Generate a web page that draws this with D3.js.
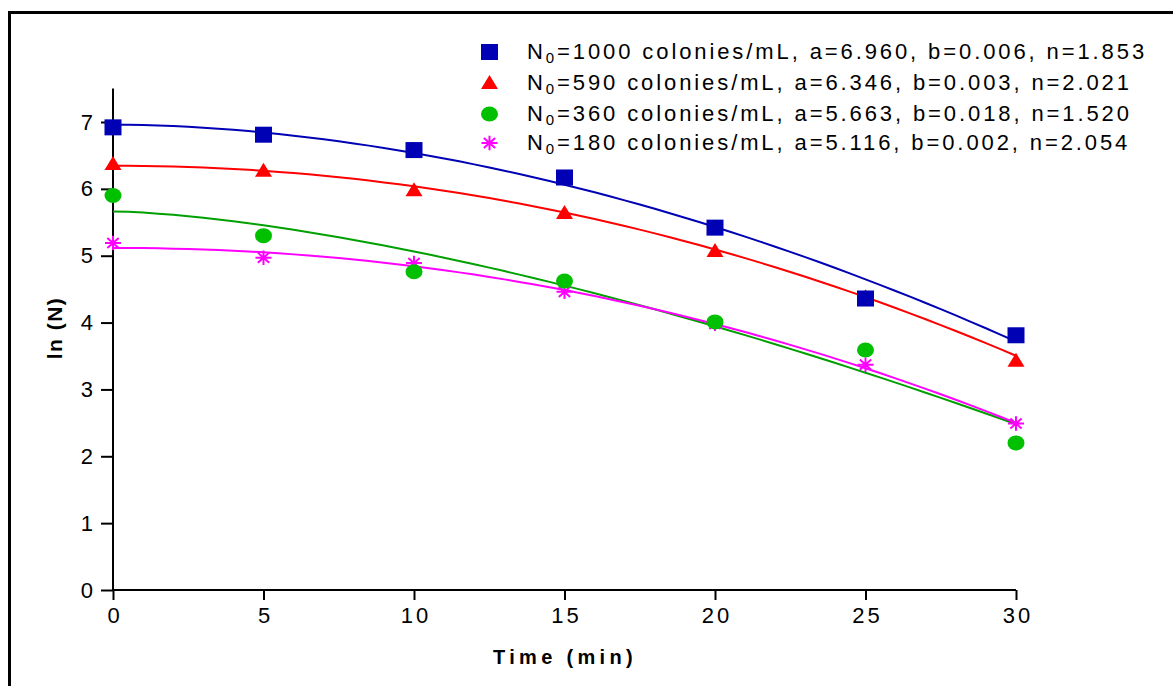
<!DOCTYPE html>
<html>
<head>
<meta charset="utf-8">
<script src="https://cdn.jsdelivr.net/npm/d3@7"></script>
<style>
  html, body { margin: 0; padding: 0; background: #fff; }
  svg { display: block; font-family: "Liberation Sans", Arial, Helvetica, sans-serif; }
</style>
</head>
<body>
<svg id="chart" width="1173" height="686"></svg>
<script>
// Sampling times (min)
const times = [0, 5, 10, 15, 20, 25, 30];

// Measured ln(N) for each initial concentration
const lnN1000 = [6.92, 6.81, 6.58, 6.17, 5.42, 4.36, 3.81];
const lnN590  = [6.37, 6.27, 5.98, 5.64, 5.07, 4.38, 3.43];
const lnN360  = [5.90, 5.30, 4.76, 4.62, 4.01, 3.59, 2.20];
const lnN180  = [5.19, 4.97, 4.89, 4.46, 3.98, 3.37, 2.49];

// Initial counts (colonies/mL)
const n0Values = [1000, 590, 360, 180];

// Fitted model ln N = a - b * t^n
const paramA = [6.960, 6.346, 5.663, 5.116];
const paramB = [0.00594, 0.00294, 0.0181, 0.00242];
const paramN = [1.853, 2.021, 1.520, 2.054];

// Axis ticks
const xTicks = [0, 5, 10, 15, 20, 25, 30];
const yTicks = [0, 1, 2, 3, 4, 5, 6, 7];

const seriesColors = ["#0000B4", "#FF0000", "#00C000", "#FF00FF"];
const lineColors   = ["#0000B4", "#FF0000", "#00A000", "#FF00FF"];
const markerKinds  = ["square", "triangle", "circle", "star"];
const seriesValues = [lnN1000, lnN590, lnN360, lnN180];

const svg = d3.select("#chart");

// Frame around the figure
svg.append("rect")
  .attr("x", 9.5).attr("y", 12.5)
  .attr("width", 1300).attr("height", 800)
  .attr("fill", "none").attr("stroke", "#000").attr("stroke-width", 3);

const x = d3.scaleLinear().domain([0, 30]).range([113, 1016]);
const y = d3.scaleLinear().domain([0, 7]).range([590, 122]);
const yTop = 7.5;

// Axes
const xAxis = svg.append("g").attr("transform", `translate(0,${y(0)})`)
  .call(d3.axisBottom(x).tickValues(xTicks).tickFormat(d3.format("d"))
    .tickSize(10).tickPadding(7).tickSizeOuter(0));
xAxis.select(".domain").remove();
xAxis.selectAll(".tick line").attr("stroke-width", 2);
xAxis.selectAll(".tick text")
  .attr("font-size", 22).attr("fill", "#000")
  .style("letter-spacing", "3px")
  .attr("dx", "1.5px");
xAxis.append("line")
  .attr("x1", x(0)).attr("x2", x(30)).attr("y1", 0).attr("y2", 0)
  .attr("stroke", "#000").attr("stroke-width", 2);

const yAxis = svg.append("g").attr("transform", `translate(${x(0)},0)`)
  .call(d3.axisLeft(y).tickValues(yTicks).tickFormat(d3.format("d"))
    .tickSize(12).tickPadding(8).tickSizeOuter(0));
yAxis.select(".domain").remove();
yAxis.selectAll(".tick line").attr("stroke-width", 2);
yAxis.selectAll(".tick text").attr("font-size", 22).attr("fill", "#000");
yAxis.append("line")
  .attr("x1", 0).attr("x2", 0).attr("y1", y(0) + 1).attr("y2", y(yTop))
  .attr("stroke", "#000").attr("stroke-width", 2);

// Axis titles
svg.append("text")
  .attr("x", 565).attr("y", 664)
  .attr("text-anchor", "middle")
  .attr("font-size", 20).attr("font-weight", "bold")
  .style("letter-spacing", "4.3px")
  .text("Time (min)");

svg.append("text")
  .attr("transform", "translate(62,328) rotate(-90)")
  .attr("text-anchor", "middle")
  .attr("font-size", 21).attr("font-weight", "bold")
  .style("letter-spacing", "1.5px")
  .text("ln (N)");

// Fitted curves
const tGrid = d3.range(0, 30.001, 0.5);
const line = d3.line().x(d => x(d[0])).y(d => y(d[1]));
paramA.forEach((a, i) => {
  const pts = tGrid.map(t => [t, a - paramB[i] * Math.pow(t, paramN[i])]);
  svg.append("path")
    .attr("d", line(pts))
    .attr("fill", "none")
    .attr("stroke", lineColors[i])
    .attr("stroke-width", 2);
});

// Marker drawing
function drawMarker(g, kind, color, cx, cy) {
  if (kind === "square") {
    g.append("rect").attr("x", cx - 8.5).attr("y", cy - 8).attr("width", 17).attr("height", 16)
      .attr("fill", color);
  } else if (kind === "triangle") {
    g.append("path")
      .attr("d", `M${cx},${cy - 8}L${cx + 8.5},${cy + 6}L${cx - 8.5},${cy + 6}Z`)
      .attr("fill", color);
  } else if (kind === "circle") {
    g.append("ellipse").attr("cx", cx).attr("cy", cy).attr("rx", 8.5).attr("ry", 7.5)
      .attr("fill", color);
  } else {
    const r = 8;
    let d = "";
    [0, 45, 90, 135].forEach(deg => {
      const a = deg * Math.PI / 180;
      const dx = r * Math.cos(a), dy = r * Math.sin(a) * 0.9;
      d += `M${cx - dx},${cy - dy}L${cx + dx},${cy + dy}`;
    });
    g.append("path").attr("d", d).attr("stroke", color).attr("stroke-width", 2).attr("fill", "none");
  }
}

// Data markers (drawn last series first so the first series sits on top)
const markers = svg.append("g");
for (let i = seriesValues.length - 1; i >= 0; i--) {
  seriesValues[i].forEach((v, j) => {
    drawMarker(markers, markerKinds[i], seriesColors[i], x(times[j]), y(v));
  });
}

// Legend
const fmt = d3.format(".3f");
const legendRows = [52, 83, 114, 143];
const legend = svg.append("g");
n0Values.forEach((n0, i) => {
  const cy = legendRows[i];
  drawMarker(legend, markerKinds[i], seriesColors[i], 489.5, cy);
  const txt = legend.append("text")
    .attr("x", 527).attr("y", cy + 7)
    .attr("font-size", 22)
    .style("letter-spacing", "2.9px")
    .attr("fill", "#000");
  txt.append("tspan").text("N");
  txt.append("tspan").attr("font-size", 15).attr("dy", 4).text("0");
  txt.append("tspan").attr("dy", -4)
    .text(`=${n0} colonies/mL, a=${fmt(paramA[i])}, b=${fmt(paramB[i])}, n=${fmt(paramN[i])}`);
});
</script>
</body>
</html>
